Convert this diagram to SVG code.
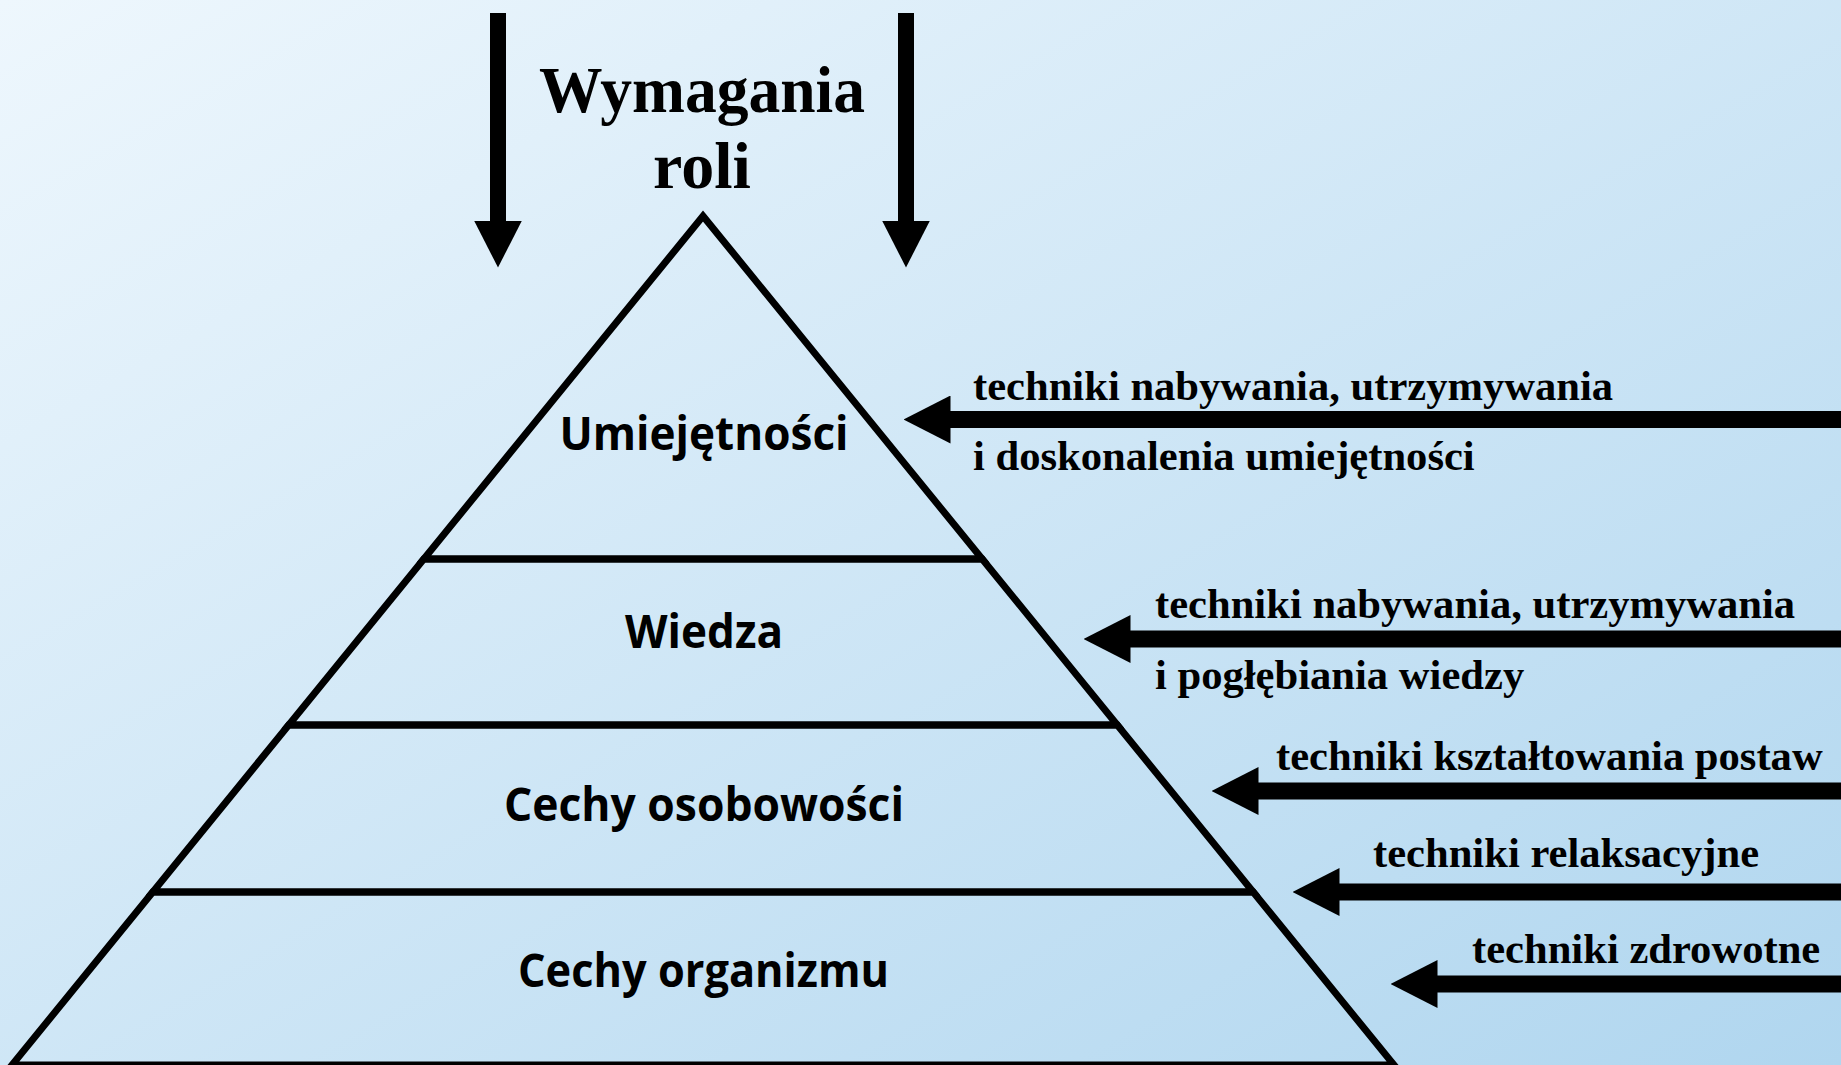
<svg xmlns="http://www.w3.org/2000/svg" width="1841" height="1065" viewBox="0 0 1841 1065">
<defs>
<linearGradient id="bg" x1="0" y1="0" x2="1" y2="1">
<stop offset="0" stop-color="#eef7fd"/>
<stop offset="1" stop-color="#b0d6ef"/>
</linearGradient>
<marker id="head" markerUnits="userSpaceOnUse" viewBox="0 0 47 48" markerWidth="47" markerHeight="48" refX="0.5" refY="24" orient="auto">
<path d="M0,0 L47,24 L0,48 Z" fill="#000"/>
</marker>
</defs>
<style>
.layer{fill:none;stroke:#000;stroke-width:7;stroke-linejoin:miter;stroke-miterlimit:20}
.lbl{font-family:"Open Sans","Noto Sans","DejaVu Sans",sans-serif;font-weight:700;font-size:46px;fill:#000;text-anchor:middle}
.title{font-family:"Liberation Serif","Times New Roman",serif;font-weight:700;font-size:66px;fill:#000;text-anchor:middle}
.note{font-family:"Liberation Serif","Times New Roman",serif;font-weight:700;font-size:42.6px;fill:#000}
.arr{stroke:#000;stroke-width:17;fill:none;marker-end:url(#head)}
.down{stroke:#000;stroke-width:16;fill:none;marker-end:url(#head)}
</style>
<rect x="0" y="0" width="1841" height="1065" fill="url(#bg)"/>

<g id="title">
<text class="title" x="702" y="112" textLength="326" lengthAdjust="spacingAndGlyphs">Wymagania</text>
<text class="title" x="702" y="188">roli</text>
</g>

<g id="layer-umiejetnosci">
<polygon class="layer" points="703,216 982.2,559 423.8,559"/>
<text class="lbl" x="704" y="450" textLength="289" lengthAdjust="spacingAndGlyphs">Umiejętności</text>
</g>
<g id="layer-wiedza">
<polygon class="layer" points="423.8,559 982.2,559 1117.3,725 288.7,725"/>
<text class="lbl" x="704" y="648" textLength="158" lengthAdjust="spacingAndGlyphs">Wiedza</text>
</g>
<g id="layer-cechy-osobowosci">
<polygon class="layer" points="288.7,725 1117.3,725 1253.2,892 152.8,892"/>
<text class="lbl" x="704" y="821" textLength="400" lengthAdjust="spacingAndGlyphs">Cechy osobowości</text>
</g>
<g id="layer-cechy-organizmu">
<polygon class="layer" points="152.8,892 1253.2,892 1394,1065 12,1065"/>
<text class="lbl" x="703.5" y="987" textLength="371" lengthAdjust="spacingAndGlyphs">Cechy organizmu</text>
</g>

<g id="connectors">
<line class="down" x1="498" y1="13" x2="498" y2="221"/>
<line class="down" x1="906" y1="13" x2="906" y2="221"/>

<g id="arrow-umiejetnosci">
<line class="arr" x1="1841" y1="419.5" x2="950" y2="419.5"/>
<text class="note" x="973" y="400">techniki nabywania, utrzymywania</text>
<text class="note" x="973" y="470">i doskonalenia umiejętności</text>
</g>
<g id="arrow-wiedza">
<line class="arr" x1="1841" y1="639" x2="1130" y2="639"/>
<text class="note" x="1155" y="618">techniki nabywania, utrzymywania</text>
<text class="note" x="1155" y="689">i pogłębiania wiedzy</text>
</g>
<g id="arrow-postawy">
<line class="arr" x1="1841" y1="791" x2="1258" y2="791"/>
<text class="note" x="1276" y="770">techniki kształtowania postaw</text>
</g>
<g id="arrow-relaks">
<line class="arr" x1="1841" y1="892" x2="1339" y2="892"/>
<text class="note" x="1373" y="867">techniki relaksacyjne</text>
</g>
<g id="arrow-zdrowie">
<line class="arr" x1="1841" y1="984" x2="1437" y2="984"/>
<text class="note" x="1472" y="963">techniki zdrowotne</text>
</g>
</g>
</svg>
